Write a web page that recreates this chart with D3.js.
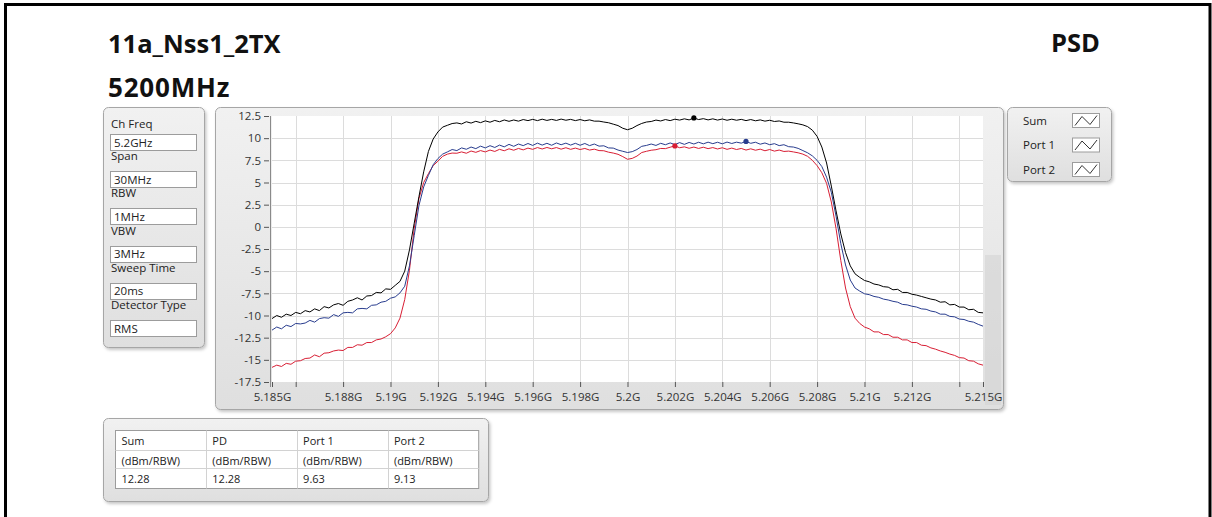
<!DOCTYPE html>
<html>
<head>
<meta charset="utf-8">
<script src="https://cdn.jsdelivr.net/npm/d3@7"></script>
<style>
  html, body { margin: 0; padding: 0; background: #fff; }
  svg { display: block; font-family: "Open Sans", sans-serif; }
</style>
</head>
<body>
<svg id="chart" width="1212" height="517"></svg>
<script>
// ---- sweep settings (trace points are spaced sweepStepMHz apart from sweepStartMHz) ----
const sweepStartMHz = 5185;
const sweepStepMHz = 0.2;

// ---- PSD traces, dBm/RBW ----
const sumPsd = [
  -10.35,-10.00,-10.20,-9.85,-10.00,-9.65,-9.80,-9.45,-9.60,-9.25,
  -9.45,-9.00,-9.15,-8.80,-8.65,-8.85,-8.40,-8.25,-8.00,-8.25,
  -7.80,-7.75,-7.40,-7.45,-7.00,-7.05,-6.60,-6.15,-5.00,-2.60,
  0.40,3.40,6.20,8.50,9.90,10.70,11.25,11.45,11.65,11.72,
  11.60,11.85,11.70,11.90,11.75,11.95,11.80,12.00,11.85,12.05,
  11.90,12.05,11.92,12.10,11.98,12.12,11.98,12.14,12.00,12.12,
  12.00,12.15,12.02,12.12,11.98,12.10,11.96,12.06,11.92,11.92,
  11.82,11.74,11.58,11.42,11.12,10.95,11.12,11.42,11.66,11.82,
  11.88,12.04,11.94,12.10,11.98,12.14,12.04,12.18,12.06,12.28,
  12.10,12.20,12.06,12.18,12.04,12.16,12.02,12.14,12.02,12.12,
  11.98,12.10,11.96,12.06,11.92,12.02,11.88,11.94,11.80,11.80,
  11.72,11.62,11.50,11.30,10.90,10.20,9.00,7.20,4.60,1.80,
  -0.80,-2.90,-4.40,-5.30,-5.70,-6.05,-6.20,-6.45,-6.55,-6.75,
  -6.80,-7.10,-7.05,-7.40,-7.40,-7.60,-7.70,-7.85,-8.00,-8.15,
  -8.25,-8.50,-8.45,-8.80,-8.75,-9.05,-9.05,-9.35,-9.30,-9.65,-9.70
];
const port1Psd = [
  -11.65,-11.30,-11.50,-11.10,-11.25,-10.90,-10.95,-10.85,-10.55,-10.75,
  -10.35,-10.25,-10.30,-9.90,-10.10,-9.70,-9.65,-9.70,-9.25,-9.20,
  -9.25,-8.85,-8.80,-8.50,-8.40,-8.05,-7.90,-7.45,-6.70,-4.40,
  -1.00,2.40,4.50,5.80,7.00,7.70,8.20,8.45,8.72,8.60,
  8.90,8.75,9.00,8.82,9.10,8.90,9.15,8.95,9.22,9.02,
  9.30,9.08,9.34,9.16,9.40,9.18,9.44,9.22,9.42,9.20,
  9.46,9.26,9.44,9.22,9.42,9.20,9.40,9.16,9.34,9.10,
  9.14,8.90,8.88,8.66,8.52,8.38,8.48,8.72,9.08,9.18,
  9.34,9.18,9.42,9.26,9.46,9.28,9.50,9.30,9.52,9.34,
  9.54,9.36,9.55,9.38,9.54,9.36,9.56,9.40,9.55,9.44,
  9.63,9.42,9.54,9.32,9.46,9.26,9.38,9.16,9.26,9.04,
  9.00,8.85,8.60,8.35,8.00,7.50,6.80,5.60,3.90,1.20,
  -1.90,-4.30,-6.00,-6.90,-7.25,-7.55,-7.65,-7.85,-7.95,-8.15,
  -8.25,-8.40,-8.50,-8.75,-8.80,-8.95,-9.05,-9.25,-9.30,-9.50,
  -9.60,-9.85,-9.85,-10.10,-10.15,-10.40,-10.45,-10.65,-10.75,-11.00,-11.20
];
const port2Psd = [
  -15.85,-15.60,-15.75,-15.40,-15.50,-15.15,-15.10,-14.85,-14.80,-14.45,
  -14.65,-14.25,-14.20,-14.00,-13.90,-13.95,-13.60,-13.60,-13.30,-13.35,
  -13.05,-13.05,-12.75,-12.65,-12.40,-12.05,-11.40,-10.30,-8.20,-4.90,
  -0.20,3.20,5.00,6.00,6.90,7.40,7.95,8.20,8.32,8.30,
  8.45,8.30,8.55,8.40,8.60,8.45,8.66,8.50,8.74,8.58,
  8.80,8.64,8.84,8.68,8.88,8.74,8.94,8.78,8.95,8.80,
  8.94,8.76,8.92,8.74,8.88,8.72,8.84,8.66,8.76,8.60,
  8.58,8.42,8.32,8.18,7.92,7.62,7.72,7.98,8.38,8.52,
  8.64,8.70,8.84,8.82,8.98,9.13,8.92,9.02,8.86,9.00,
  8.84,8.98,8.82,8.94,8.78,8.92,8.74,8.88,8.72,8.84,
  8.66,8.80,8.64,8.76,8.58,8.72,8.54,8.66,8.50,8.54,
  8.45,8.35,8.20,7.95,7.50,6.90,6.10,4.90,2.80,-0.20,
  -3.80,-6.90,-9.00,-10.30,-10.90,-11.30,-11.50,-11.85,-11.85,-12.15,
  -12.15,-12.45,-12.45,-12.75,-12.75,-13.05,-13.05,-13.35,-13.40,-13.65,
  -13.80,-14.00,-14.15,-14.35,-14.50,-14.75,-14.80,-15.10,-15.15,-15.45,-15.60
];

// ---- axes ----
const xTickGHz = [5.185,5.186,5.188,5.19,5.192,5.194,5.196,5.198,5.2,5.202,5.204,5.206,5.208,5.21,5.212,5.214,5.215];
const xLabelGHz = [5.185,5.188,5.19,5.192,5.194,5.196,5.198,5.2,5.202,5.204,5.206,5.208,5.21,5.212,5.215];
const xGridGHz = [5.186,5.188,5.19,5.192,5.194,5.196,5.198,5.2,5.202,5.204,5.206,5.208,5.21,5.212,5.214];
const yTicks = [12.5,10,7.5,5,2.5,0,-2.5,-5,-7.5,-10,-12.5,-15,-17.5];

// ---- legend / settings / peak table ----
const seriesNames = ["Sum","Port 1","Port 2"];
const settingLabels = ["Ch Freq","Span","RBW","VBW","Sweep Time","Detector Type"];
const settingValues = ["5.2GHz","30MHz","1MHz","3MHz","20ms","RMS"];
const tableHeaders = ["Sum","PD","Port 1","Port 2"];
const tableUnits = ["(dBm/RBW)","(dBm/RBW)","(dBm/RBW)","(dBm/RBW)"];
const tablePeaks = [12.28,12.28,9.63,9.13];

// ---- drawing ----
const svg = d3.select("#chart");
const defs = svg.append("defs");

const grad = defs.append("linearGradient").attr("id","panelFill")
  .attr("x1",0).attr("y1",0).attr("x2",0).attr("y2",1);
grad.append("stop").attr("offset","0%").attr("stop-color","#f1f1f1");
grad.append("stop").attr("offset","100%").attr("stop-color","#dfdfdf");

const shadow = defs.append("filter").attr("id","shadow")
  .attr("x","-5%").attr("y","-5%").attr("width","115%").attr("height","120%");
shadow.append("feDropShadow").attr("dx",1.5).attr("dy",2).attr("stdDeviation",1.5)
  .attr("flood-color","#000").attr("flood-opacity",0.22);

// page frame
svg.append("rect").attr("x",5.5).attr("y",4.5).attr("width",1204.5).attr("height",600)
  .attr("fill","none").attr("stroke","#000").attr("stroke-width",3);

// headings
svg.append("text").attr("x",108).attr("y",53).attr("font-size",25.5).attr("font-weight",700)
  .attr("fill","#111").text("11a_Nss1_2TX");
svg.append("text").attr("x",108).attr("y",97).attr("font-size",26).attr("font-weight",700)
  .attr("letter-spacing",0.8).attr("fill","#111").text("5200MHz");
svg.append("text").attr("x",1100).attr("y",52).attr("font-size",25.5).attr("font-weight",700)
  .attr("text-anchor","end").attr("fill","#111").text("PSD");

function panel(x, y, w, h) {
  svg.append("rect").attr("x",x).attr("y",y).attr("width",w).attr("height",h).attr("rx",5)
    .attr("fill","url(#panelFill)").attr("stroke","#a6a6a6").attr("stroke-width",1)
    .attr("filter","url(#shadow)");
}

// settings panel
panel(103.5,107.5,101,240);
settingLabels.forEach((lab, k) => {
  const top = 134 + k * 37.2;
  svg.append("text").attr("x",111).attr("y", k === 0 ? top - 6 : top - 11)
    .attr("font-size",11.5).attr("fill","#222").text(lab);
  svg.append("rect").attr("x",110.5).attr("y",Math.round(top) + 0.5).attr("width",86).attr("height",16)
    .attr("fill","#fff").attr("stroke","#9c9c9c");
  svg.append("text").attr("x",114).attr("y",top + 12.5)
    .attr("font-size",11.5).attr("fill","#222").text(settingValues[k]);
});

// graph panel
panel(215.5,107.5,788,302);
svg.append("rect").attr("x",985).attr("y",255).attr("width",16).attr("height",150)
  .attr("fill","#d4d4d4").attr("opacity",0.6);

const plot = {left:272, right:983, top:116, bottom:382};
svg.append("rect").attr("x",plot.left).attr("y",plot.top)
  .attr("width",plot.right-plot.left).attr("height",plot.bottom-plot.top).attr("fill","#fff");

const x = d3.scaleLinear().domain([5.185,5.215]).range([plot.left,plot.right]);
const y = d3.scaleLinear().domain([-17.5,12.5]).range([plot.bottom,plot.top]);

// grid
svg.append("g").selectAll("line").data(xGridGHz).join("line")
  .attr("x1",d => Math.round(x(d)) + 0.5).attr("x2",d => Math.round(x(d)) + 0.5)
  .attr("y1",plot.top).attr("y2",plot.bottom)
  .attr("stroke","#dcdcdc").attr("stroke-width",1);
svg.append("g").selectAll("line").data(yTicks.slice(1,-1)).join("line")
  .attr("y1",d => Math.round(y(d)) + 0.5).attr("y2",d => Math.round(y(d)) + 0.5)
  .attr("x1",plot.left).attr("x2",plot.right)
  .attr("stroke","#dcdcdc").attr("stroke-width",1);

// axes
const yAxis = svg.append("g").attr("transform","translate(269,0)")
  .call(d3.axisLeft(y).tickValues(yTicks).tickFormat(d => String(d)).tickSize(5).tickPadding(3));
const xAxis = svg.append("g").attr("transform",`translate(0,${plot.bottom})`)
  .call(d3.axisBottom(x).tickValues(xTickGHz)
    .tickFormat(d => xLabelGHz.includes(d) ? d3.format(".3~f")(d) + "G" : "")
    .tickSize(5).tickPadding(6));
[yAxis, xAxis].forEach(a => {
  a.select(".domain").remove();
  a.selectAll("line").attr("stroke","#555");
  a.selectAll("text").attr("font-size",11.5).attr("fill","#333").attr("font-family","Open Sans, sans-serif");
});
svg.append("line").attr("x1",270.5).attr("x2",270.5).attr("y1",plot.top).attr("y2",plot.bottom + 5)
  .attr("stroke","#8a8a8a");

// traces
defs.append("clipPath").attr("id","plotClip").append("rect")
  .attr("x",plot.left).attr("y",plot.top).attr("width",plot.right-plot.left).attr("height",plot.bottom-plot.top);
const freqGHz = sumPsd.map((_, i) => (sweepStartMHz + sweepStepMHz * i) / 1000);
const line = d3.line().x((d, i) => x(freqGHz[i])).y(d => y(d));
const traces = [
  {name:"Port 2", values:port2Psd, color:"#d81e34"},
  {name:"Port 1", values:port1Psd, color:"#283c8e"},
  {name:"Sum",    values:sumPsd,   color:"#000000"}
];
const tg = svg.append("g").attr("clip-path","url(#plotClip)");
traces.forEach(t => {
  tg.append("path").attr("d",line(t.values)).attr("fill","none")
    .attr("stroke",t.color).attr("stroke-width",1).attr("stroke-linejoin","round");
});
// peak markers
traces.forEach(t => {
  const i = d3.maxIndex(t.values);
  svg.append("circle").attr("cx",x(freqGHz[i])).attr("cy",y(t.values[i])).attr("r",2.6)
    .attr("fill",t.color);
});

// legend panel
panel(1007.5,107.5,104,74);
seriesNames.forEach((n, k) => {
  const cy = 120.5 + k * 24.5;
  svg.append("text").attr("x",1023).attr("y",cy + 4).attr("font-size",11.5).attr("fill","#222").text(n);
  svg.append("rect").attr("x",1072.5).attr("y",cy - 7).attr("width",27).attr("height",14)
    .attr("fill","#fff").attr("stroke","#9c9c9c");
  svg.append("polyline")
    .attr("points",[[1075,cy+5],[1082,cy-4],[1090,cy+4],[1097,cy-5]].map(p => p.join(",")).join(" "))
    .attr("fill","none").attr("stroke","#333").attr("stroke-width",1);
});

// peak table
panel(103.5,418.5,385,83);
const tx0 = 115.5, ty0 = 430.5, colW = 90.8, rowY = [430.5,450.5,468.5,488.5];
svg.append("rect").attr("x",tx0).attr("y",ty0).attr("width",colW*4).attr("height",rowY[3]-ty0)
  .attr("fill","#fff").attr("stroke","#9c9c9c");
[1,2].forEach(r => svg.append("line").attr("x1",tx0).attr("x2",tx0+colW*4)
  .attr("y1",rowY[r]).attr("y2",rowY[r]).attr("stroke","#d2d2d2"));
[1,2,3].forEach(c => svg.append("line").attr("x1",Math.round(tx0+colW*c)+0.5).attr("x2",Math.round(tx0+colW*c)+0.5)
  .attr("y1",ty0).attr("y2",rowY[3]).attr("stroke","#d2d2d2"));
const rows = [tableHeaders, tableUnits, tablePeaks.map(v => v.toFixed(2))];
rows.forEach((row, r) => {
  row.forEach((txt, c) => {
    svg.append("text").attr("x",tx0 + colW*c + 6).attr("y",rowY[r] + 14)
      .attr("font-size",11).attr("fill","#222").text(txt);
  });
});
</script>
</body>
</html>
